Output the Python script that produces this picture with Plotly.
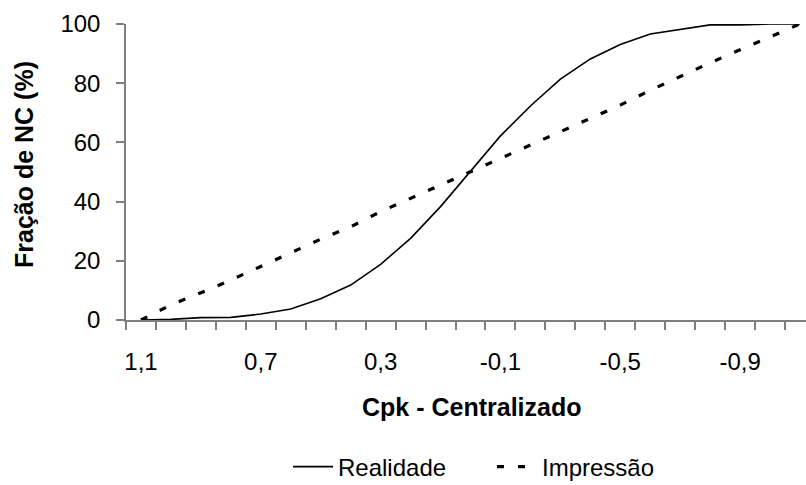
import plotly.graph_objects as go

# Data
cpk = [round(1.1 - 0.1 * i, 1) for i in range(23)]
realidade = [0, 0.2, 0.8, 0.9, 2.0, 3.7, 7.2, 11.8, 18.8, 27.6, 38.3, 50.3,
             62.2, 72.3, 81.4, 88.2, 93.1, 96.6, 98.2, 99.7, 99.7, 100, 100]
impressao = [0, 5.1, 9.2, 13.5, 18.1, 22.7, 27.3, 31.5, 36.6, 41.1, 45.6, 50.1,
             54.7, 59.1, 63.7, 68.1, 72.6, 77.6, 82.3, 86.9, 91.3, 95.7, 100]
xtick_vals = [1.1, 0.7, 0.3, -0.1, -0.5, -0.9]
xtick_text = ["1,1", "0,7", "0,3", "-0,1", "-0,5", "-0,9"]
ytick_vals = [0, 20, 40, 60, 80, 100]

FONT = "Liberation Sans, Arial, sans-serif"
W, H = 806, 485
L, R, T, B = 126, 0, 24, 165
pw, ph = W - L - R, H - T - B

def px_x(x):
    return (x - L) / pw

def px_y(y):
    return (H - B - y) / ph

fig = go.Figure()
fig.add_trace(go.Scatter(x=cpk, y=realidade, mode="lines", name="Realidade",
                         line=dict(color="black", width=1.6)))
fig.add_trace(go.Scatter(x=cpk, y=impressao, mode="lines", name="Impressão",
                         line=dict(color="black", width=3.2, dash="7px,14px")))

boundaries = [round(1.15 - 0.1 * i, 2) for i in range(24)]

fig.update_layout(
    width=W, height=H,
    margin=dict(l=L, r=R, t=T, b=B, autoexpand=False),
    paper_bgcolor="white", plot_bgcolor="white",
    font=dict(family=FONT, size=24, color="black"),
    showlegend=True,
    legend=dict(orientation="h", x=px_x(288), y=px_y(467), xanchor="left",
                yanchor="middle", font=dict(size=24), bgcolor="rgba(0,0,0,0)",
                itemwidth=40, tracegroupgap=0, entrywidth=149),
    xaxis=dict(range=[1.15, -1.12], showgrid=False, zeroline=False,
               showline=True, linecolor="#7f7f7f", linewidth=1.5,
               tickmode="array", tickvals=xtick_vals, ticktext=xtick_text,
               ticks="", ticklabelstandoff=19,
               tickfont=dict(size=24),
               minor=dict(tickmode="array", tickvals=boundaries, ticks="outside",
                          ticklen=8, tickcolor="#7f7f7f", tickwidth=1.5,
                          showgrid=False)),
    yaxis=dict(range=[0, 100], showgrid=False, zeroline=False,
               showline=True, linecolor="#7f7f7f", linewidth=1.5,
               tickmode="array", tickvals=ytick_vals,
               ticks="outside", ticklen=8, tickcolor="#7f7f7f", tickwidth=1.5,
               ticklabelstandoff=11, tickfont=dict(size=24)),
    annotations=[
        dict(text="<b>Cpk - Centralizado</b>", xref="paper", yref="paper",
             x=px_x(471), y=px_y(407), xanchor="center", yanchor="middle",
             showarrow=False, font=dict(size=25)),
        dict(text="<b>Fração de NC (%)</b>", xref="paper", yref="paper",
             x=px_x(24), y=px_y(165), xanchor="center", yanchor="middle",
             textangle=-90, showarrow=False, font=dict(size=25)),
    ],
)

fig.write_html("out.html", config={"displayModeBar": False},
               post_script="document.body.style.margin='0';document.body.style.overflow='hidden';")
